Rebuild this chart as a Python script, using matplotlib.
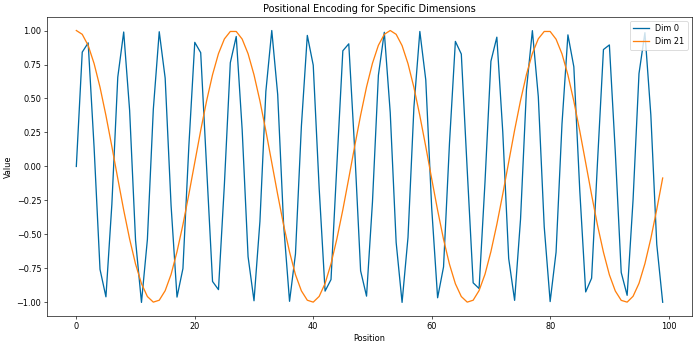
import matplotlib.pyplot as plt
import numpy as np

# positions 0..99
positions = np.arange(100)

# values, Dim 0 (fast oscillation)
dim0 = [0.000, 0.841, 0.909, 0.141, -0.757, -0.959, -0.279, 0.657, 0.989, 0.412,
        -0.544, -1.000, -0.537, 0.420, 0.991, 0.650, -0.288, -0.961, -0.751, 0.150,
        0.913, 0.837, -0.009, -0.846, -0.906, -0.132, 0.763, 0.956, 0.271, -0.664,
        -0.988, -0.404, 0.551, 1.000, 0.529, -0.428, -0.992, -0.644, 0.296, 0.964,
        0.745, -0.159, -0.917, -0.832, 0.018, 0.851, 0.902, 0.124, -0.768, -0.954,
        -0.262, 0.670, 0.987, 0.396, -0.559, -1.000, -0.522, 0.436, 0.993, 0.637,
        -0.305, -0.966, -0.739, 0.168, 0.920, 0.827, -0.027, -0.856, -0.898, -0.115,
        0.774, 0.951, 0.254, -0.677, -0.985, -0.388, 0.566, 0.999, 0.514, -0.444,
        -0.994, -0.630, 0.313, 0.968, 0.733, -0.176, -0.923, -0.822, 0.035, 0.860,
        0.894, 0.106, -0.780, -0.948, -0.245, 0.683, 0.984, 0.379, -0.573, -0.999]

# Dim 21 (slow oscillation)
dim21 = [1.000, 0.972, 0.890, 0.757, 0.583, 0.375, 0.147, -0.089, -0.321, -0.534,
         -0.718, -0.862, -0.957, -0.998, -0.984, -0.914, -0.794, -0.627, -0.428, -0.205,
         0.030, 0.265, 0.483, 0.675, 0.830, 0.938, 0.993, 0.993, 0.937, 0.829,
         0.674, 0.482, 0.262, 0.028, -0.207, -0.431, -0.629, -0.796, -0.915, -0.984,
         -0.998, -0.956, -0.861, -0.716, -0.531, -0.318, -0.087, 0.149, 0.377, 0.585,
         0.759, 0.891, 0.972, 1.000, 0.972, 0.889, 0.756, 0.581, 0.373, 0.146,
         -0.091, -0.322, -0.536, -0.719, -0.863, -0.957, -0.998, -0.984, -0.913, -0.793,
         -0.626, -0.426, -0.203, 0.032, 0.267, 0.485, 0.677, 0.831, 0.939, 0.993,
         0.993, 0.936, 0.828, 0.673, 0.480, 0.261, 0.027, -0.209, -0.433, -0.631,
         -0.797, -0.916, -0.985, -0.998, -0.955, -0.860, -0.715, -0.530, -0.316, -0.085]

plt.figure(figsize=(12, 5.95), dpi=700 / 12)
plt.plot(positions, dim0, label="Dim 0", color="#006BA4", linewidth=1.6)
plt.plot(positions, dim21, label="Dim 21", color="#FF800E", linewidth=1.6)
plt.xlabel("Position")
plt.ylabel("Value")
plt.title("Positional Encoding for Specific Dimensions")
plt.legend(loc="upper right")
plt.subplots_adjust(left=47 / 700, right=692 / 700, top=1 - 17 / 347, bottom=1 - 316 / 347)
plt.savefig("out.png")
